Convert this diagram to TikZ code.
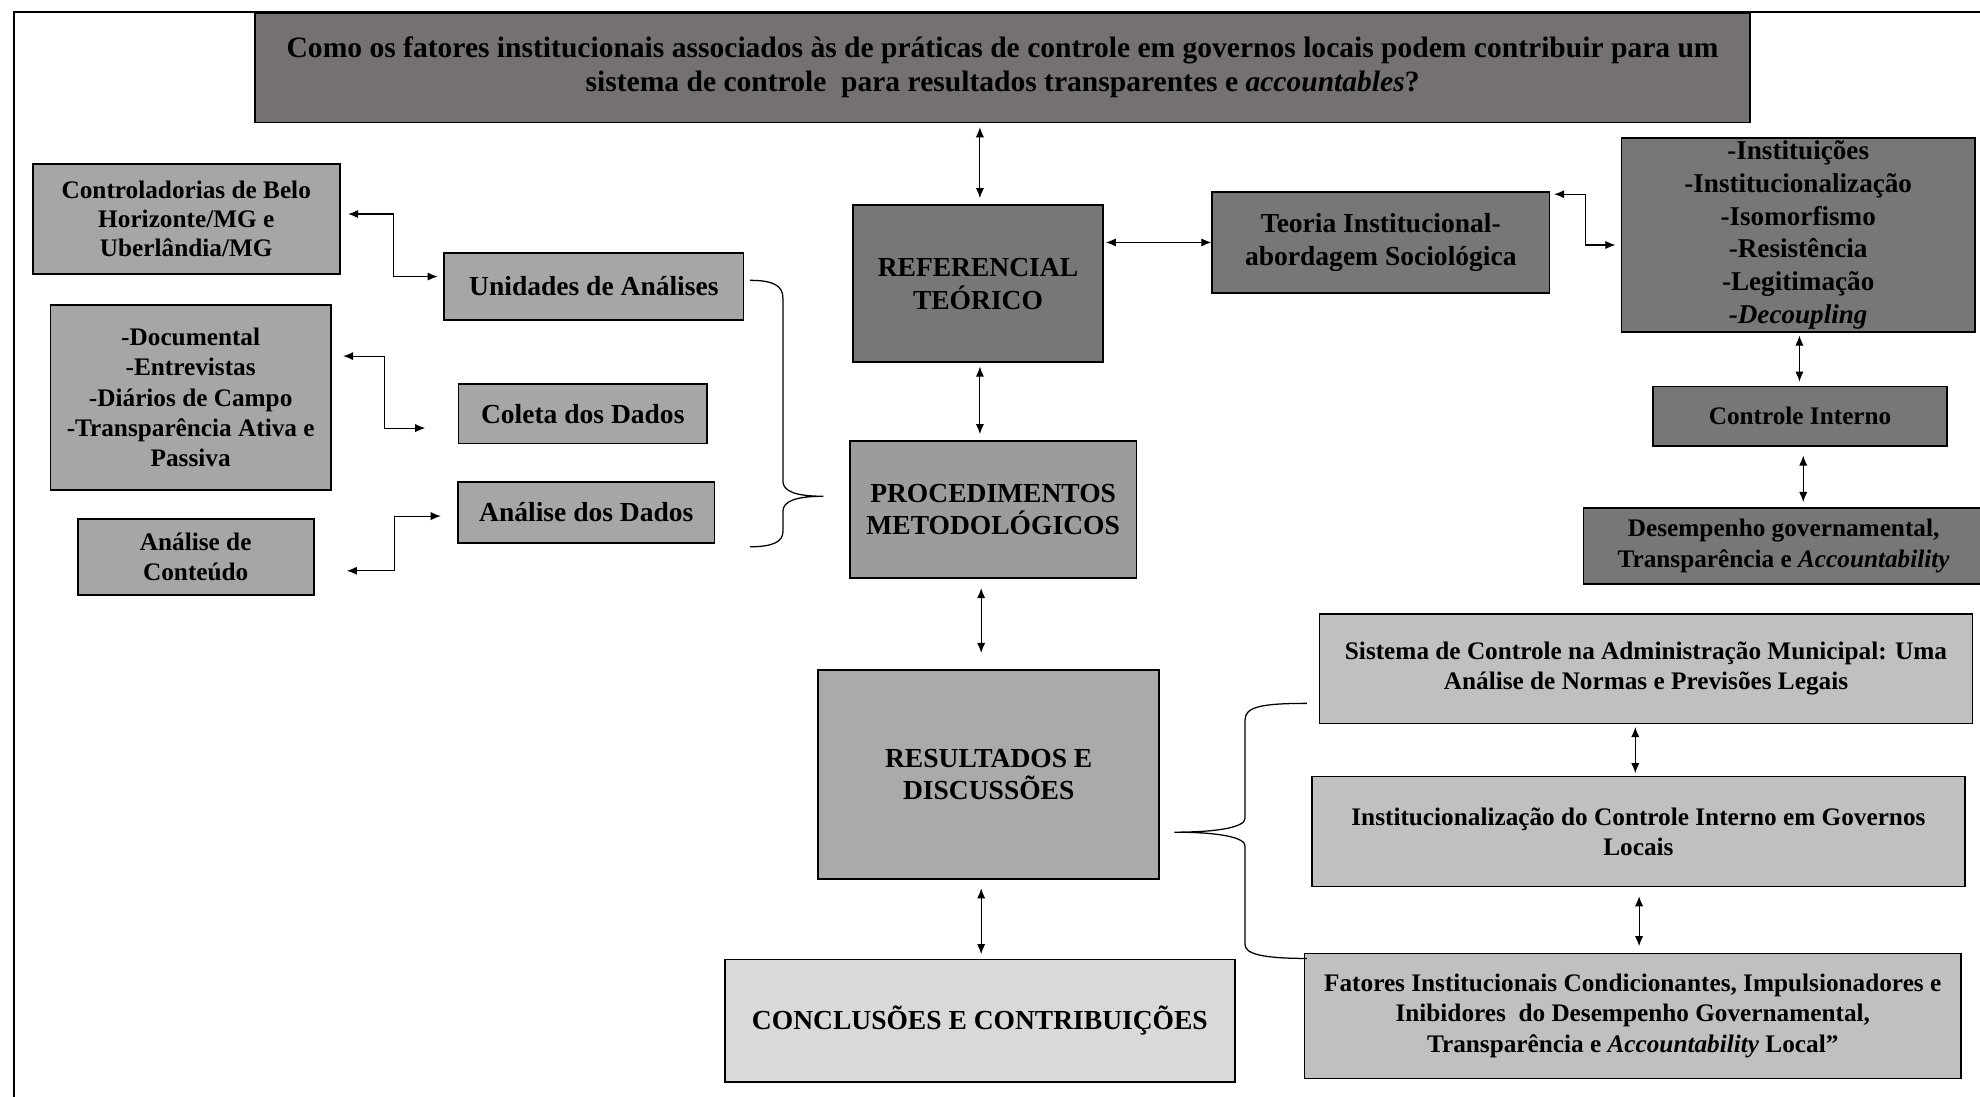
\documentclass[tikz,border=0pt]{standalone}
\usepackage{fontspec}
\setmainfont{Liberation Serif}
\usepackage{xcolor}
\usepackage{tikz}
\usetikzlibrary{arrows.meta}

\definecolor{qgray}{RGB}{117,113,112}
\definecolor{darkbox}{RGB}{119,119,119}
\definecolor{procgray}{RGB}{156,156,156}
\definecolor{leftgray}{RGB}{166,166,166}
\definecolor{resgray}{RGB}{170,170,170}
\definecolor{rightgray}{RGB}{192,192,192}
\definecolor{concgray}{RGB}{217,217,217}

\begin{document}
\begin{tikzpicture}[x=1pt, y=-1pt,
        box/.style={draw=black, line width=1.4pt, align=center, inner sep=0pt,
            font=\bfseries\fontsize{20}{24}\selectfont},
        bigbox/.style={box, font=\bfseries\fontsize{21.8}{26}\selectfont},
        dbl/.style={{Latex[length=8pt,width=6.5pt]}-{Latex[length=8pt,width=6.5pt]}, line width=0.9pt},
        curly/.style={line width=1pt}]
        \useasboundingbox (0,0) rectangle (1568,868);

        % 1. Outer frame (only top and left edges are visible)
        \draw[line width=1.2pt] (11,872) -- (11,9.5) -- (1572,9.5);

        % 2. Research question at the top
        \node[box, fill=qgray, minimum width=1184pt, minimum height=87pt, font=\bfseries\fontsize{23.4}{27}\selectfont] (q) at (794,53.5)
            {Como os fatores institucionais associados às de práticas de controle em governos locais podem contribuir para um\\
             sistema de controle~ para resultados transparentes e \textit{accountables}?};

        % 3. Central column
        \node[bigbox, fill=darkbox, minimum width=198pt, minimum height=124pt] (ref) at (774.5,224.6) {REFERENCIAL\\TEÓRICO};
        \node[bigbox, fill=procgray, minimum width=227pt, minimum height=109pt] (proc) at (786.5,403.5) {PROCEDIMENTOS\\METODOLÓGICOS};
        \node[bigbox, fill=resgray, minimum width=270pt, minimum height=165pt] (res) at (783,613.3) {RESULTADOS E\\DISCUSSÕES};
        \node[bigbox, fill=concgray, minimum width=404pt, minimum height=97pt] (conc) at (776,808.3) {CONCLUSÕES E CONTRIBUIÇÕES};

        \draw[dbl, shorten <=3pt, shorten >=5pt] ([xshift=1.5pt]ref.north |- q.south) -- ([xshift=1.5pt]ref.north);
        \draw[dbl, shorten <=3pt, shorten >=4.5pt] ([xshift=1.5pt]ref.south) -- ([xshift=1.5pt]ref.south |- proc.north);
        \draw[dbl, shorten <=7pt, shorten >=13pt] ([xshift=2.5pt]ref.south |- proc.south) -- ([xshift=2.5pt]ref.south |- res.north);
        \draw[dbl, shorten <=7pt, shorten >=3.5pt] ([xshift=2.5pt]ref.south |- res.south) -- ([xshift=2.5pt]ref.south |- conc.north);

        % 4. Method side (left)
        \node[box, fill=leftgray, minimum width=243pt, minimum height=87pt, font=\bfseries\fontsize{20}{23}\selectfont] (ctrl) at (147.5,173.5)
            {Controladorias de Belo\\Horizonte/MG e\\Uberlândia/MG};
        \node[box, fill=leftgray, minimum width=222pt, minimum height=147pt] (doc) at (151,314.8)
            {-Documental\\-Entrevistas\\-Diários de Campo\\-Transparência Ativa e\\Passiva};
        \node[box, fill=leftgray, minimum width=187pt, minimum height=60pt] (cont) at (155,441) {Análise de\\Conteúdo};

        \node[bigbox, fill=leftgray, minimum width=237pt, minimum height=53pt] (unid) at (470.3,226.8) {Unidades de Análises};
        \node[bigbox, fill=leftgray, minimum width=197pt, minimum height=47pt] (coleta) at (461.5,327.8) {Coleta dos Dados};
        \node[bigbox, fill=leftgray, minimum width=203pt, minimum height=48pt] (anal) at (464.3,405.8) {Análise dos Dados};

        \draw[dbl] ([xshift=6pt,yshift=4pt]ctrl.east) -- ++(36,0) |- ([xshift=-4.5pt,yshift=7.8pt]unid.west);
        \draw[dbl] ([xshift=9pt,yshift=32.8pt]doc.east) -- ++(33,0) |- ([xshift=-25.5pt,yshift=-11.2pt]coleta.west);
        \draw[dbl] ([xshift=25.5pt,yshift=-11pt]cont.east) -- ++(38,0) |- ([xshift=-13pt,yshift=-2.9pt]anal.west);

        % brace towards the procedures box
        \draw[curly] (594,222) .. controls (612,222) and (620,226) .. (620,236) -- (620,381)
            .. controls (620,389) and (630,393) .. (652,393)
            .. controls (630,393) and (620,397) .. (620,405) -- (620,421)
            .. controls (620,429) and (612,433) .. (594,433);

        % 5. Theory side (right, top)
        \node[bigbox, fill=darkbox, minimum width=267pt, minimum height=80pt] (teoria) at (1093.5,192) {Teoria Institucional-\\abordagem Sociológica};
        \node[box, fill=darkbox, minimum width=280pt, minimum height=154pt, font=\bfseries\fontsize{21.5}{26}\selectfont] (list) at (1424,186)
            {-Instituições\\-Institucionalização\\-Isomorfismo\\-Resistência\\-Legitimação\\\textit{-Decoupling}};
        \node[box, fill=darkbox, minimum width=233pt, minimum height=47pt] (ctlint) at (1425.5,329.5) {Controle Interno};
        \node[box, fill=darkbox, minimum width=317pt, minimum height=60pt] (desemp) at (1412.5,432.3)
            {Desempenho governamental,\\Transparência e \textit{Accountability}};

        \draw[dbl, shorten <=1.5pt] (ref.east |- teoria.west) -- (teoria.west);
        \draw[dbl] ([xshift=3pt,yshift=-2.5pt]teoria.north east) -- ++(25,0) |- ([xshift=-4pt,yshift=-8pt]list.west);
        \draw[dbl, shorten <=2pt, shorten >=3pt] ([xshift=1pt]list.south) -- ([xshift=1pt]list.south |- ctlint.north);
        \draw[dbl, shorten <=7pt, shorten >=4pt] ([xshift=2.5pt]ctlint.south) -- ([xshift=2.5pt]ctlint.south |- desemp.north);

        % 6. Results side (right, bottom)
        \node[box, fill=rightgray, minimum width=517pt, minimum height=87pt] (sist) at (1303.5,529.5)
            {Sistema de Controle na Administração Municipal: Uma\\Análise de Normas e Previsões Legais};
        \node[box, fill=rightgray, minimum width=517pt, minimum height=87pt] (inst) at (1297.5,658.5)
            {Institucionalização do Controle Interno em Governos\\Locais};
        \node[box, fill=rightgray, minimum width=520pt, minimum height=99pt] (fat) at (1293,804.5)
            {Fatores Institucionais Condicionantes, Impulsionadores e\\Inibidores~ do Desempenho Governamental,\\Transparência e \textit{Accountability} Local”};

        \draw[dbl, shorten <=2pt, shorten >=2pt] ([xshift=-8.5pt]sist.south) -- ([xshift=-8.5pt]sist.south |- inst.north);
        \draw[dbl, shorten <=7pt, shorten >=5pt] ([xshift=0.5pt]inst.south) -- ([xshift=0.5pt]inst.south |- fat.north);

        % brace towards the results box
        \draw[curly] (1035,557) .. controls (998,557) and (986,560) .. (986,570) -- (986,648)
            .. controls (986,655) and (965,659) .. (930,659)
            .. controls (965,659) and (986,663) .. (986,670) -- (986,748)
            .. controls (986,755) and (998,759) .. (1035,759);

    \end{tikzpicture}
\end{document}
